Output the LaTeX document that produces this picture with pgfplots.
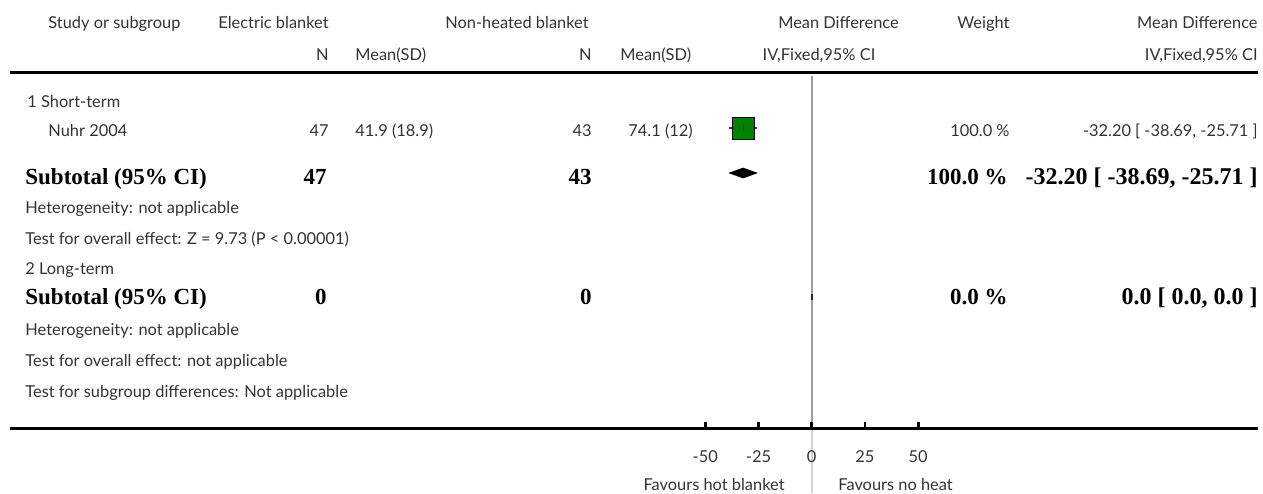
\documentclass[border=0pt]{standalone}
\usepackage{pgfplots}
\pgfplotsset{compat=1.18}
\usepackage{fontspec}
\setmainfont{Lato}
\newfontfamily\serifbold{Liberation Serif}

% study estimates: mean difference with 95% CI
\pgfplotstableread{
md     lo      hi      row
-32.20 -38.69  -25.71  128
}\studies
% pooled subtotal (short-term)
\pgfplotstableread{
x      y
-38.69 173
-32.20 168
-25.71 173
-32.20 178
}\pooled

% page position (1 unit = 1 px on a 1263 x 493 grid) -> mean difference
\newcommand\px[1]{(((#1)-811.7)/2.13)}
% wide word space for the bold summary intervals
\newcommand\ws{\hspace{0.25em}}

\begin{document}
\begin{tikzpicture}[
  every node/.style={inner sep=0pt, font=\fontsize{8.2}{10}\selectfont, text=black!80},
  bt/.style={font=\serifbold\bfseries\fontsize{11.5}{13}\selectfont, text=black},
  bci/.style={font=\serifbold\bfseries\fontsize{12}{14}\selectfont, text=black},
]
\begin{axis}[
  scale only axis, width=631.5pt, height=246.5pt,
  xmin={\px{0}}, xmax={\px{1263}},
  ymin=0, ymax=493, y dir=reverse,
  axis lines=none, clip=false,
]
% page frame
\path (axis cs:{\px{0}},0) rectangle (axis cs:{\px{1263}},493);

% header
\node[anchor=base west] at (axis cs:{\px{48}},28) {Study or subgroup};
\node[anchor=base west] at (axis cs:{\px{218}},28) {Electric blanket};
\node[anchor=base west] at (axis cs:{\px{445}},28) {Non-heated blanket};
\node[anchor=base] at (axis cs:{\px{838.5}},28) {Mean Difference};
\node[anchor=base west] at (axis cs:{\px{957}},28) {Weight};
\node[anchor=base east] at (axis cs:{\px{1258}},28) {Mean Difference};
\node[anchor=base east] at (axis cs:{\px{329}},60) {N};
\node[anchor=base west] at (axis cs:{\px{355}},60) {Mean(SD)};
\node[anchor=base east] at (axis cs:{\px{592}},60) {N};
\node[anchor=base west] at (axis cs:{\px{620}},60) {Mean(SD)};
\node[anchor=base] at (axis cs:{\px{819}},60) {IV,Fixed,95\% CI};
\node[anchor=base east] at (axis cs:{\px{1258}},60) {IV,Fixed,95\% CI};
\draw[line width=1.5pt] (axis cs:{\px{10}},72) -- (axis cs:{\px{1258}},72);

% line of no effect
\draw[line width=0.8pt, black!38] (axis cs:0,76) -- (axis cs:0,428);
\draw[line width=0.8pt, black!18] (axis cs:0,428) -- (axis cs:0,493);

% subgroup 1
\node[anchor=base west] at (axis cs:{\px{27}},107) {1 Short-term};
\node[anchor=base west] at (axis cs:{\px{48}},136) {Nuhr 2004};
\node[anchor=base east] at (axis cs:{\px{329}},136) {47};
\node[anchor=base west] at (axis cs:{\px{355}},136) {41.9 (18.9)};
\node[anchor=base east] at (axis cs:{\px{592}},136) {43};
\node[anchor=base west] at (axis cs:{\px{628}},136) {74.1 (12)};
\node[anchor=base east] at (axis cs:{\px{1010}},136) {100.0 \%};
\node[anchor=base east] at (axis cs:{\px{1258}},136) {-32.20 [ -38.69, -25.71 ]};

\addplot[only marks, mark=square*, mark size=5.5pt, draw=none, fill={rgb,255:red,0;green,128;blue,0}]
  table[x=md, y=row] {\studies};
\addplot[black!75, line width=0.7pt] coordinates {(-38.69,128) (-25.71,128)};
\addplot[only marks, mark=|, mark size=1.6pt, black!80, line width=0.6pt]
  table[x=md, y=row] {\studies};

\node[bt, anchor=base west] at (axis cs:{\px{25}},184) {Subtotal (95\% CI)};
\node[bt, anchor=base east] at (axis cs:{\px{327}},184) {47};
\node[bt, anchor=base east] at (axis cs:{\px{592}},184) {43};
\node[bt, anchor=base east] at (axis cs:{\px{1008}},184) {100.0 \%};
\node[bci, anchor=base east] at (axis cs:{\px{1258}},184) {-32.20\ws[\ws-38.69,\ws-25.71\ws]};
\addplot[fill=black, draw=black, line width=0.3pt] table[x=x, y=y] {\pooled} -- cycle;

\node[anchor=base west] at (axis cs:{\px{25}},213) {Heterogeneity: not applicable};
\node[anchor=base west] at (axis cs:{\px{25}},244) {Test for overall effect: Z = 9.73 (P < 0.00001)};

% subgroup 2
\node[anchor=base west] at (axis cs:{\px{25}},274) {2 Long-term};
\node[bt, anchor=base west] at (axis cs:{\px{25}},304) {Subtotal (95\% CI)};
\node[bt, anchor=base east] at (axis cs:{\px{327}},304) {0};
\node[bt, anchor=base east] at (axis cs:{\px{592}},304) {0};
\node[bt, anchor=base east] at (axis cs:{\px{1008}},304) {0.0 \%};
\node[bci, anchor=base east] at (axis cs:{\px{1258}},304) {0.0\ws[\ws0.0,\ws0.0\ws]};
\addplot[only marks, mark=|, mark size=1.3pt, black!85, line width=0.8pt] coordinates {(0,297)};
\node[anchor=base west] at (axis cs:{\px{25}},335) {Heterogeneity: not applicable};
\node[anchor=base west] at (axis cs:{\px{25}},366) {Test for overall effect: not applicable};
\node[anchor=base west] at (axis cs:{\px{25}},397) {Test for subgroup differences: Not applicable};

% scale
\draw[line width=1.5pt] (axis cs:{\px{10}},428) -- (axis cs:{\px{1258}},428);
\foreach \t in {-50,-25,0,25,50} {
  \edef\tmp{\noexpand\draw[line width=1.3pt] (axis cs:\t,428) -- (axis cs:\t,422);}\tmp
  \edef\tmp{\noexpand\node[anchor=base] at (axis cs:\t,462) {\t};}\tmp
}
\node[anchor=base east] at (axis cs:{\px{785}},490) {Favours hot blanket};
\node[anchor=base west] at (axis cs:{\px{838}},490) {Favours no heat};
\end{axis}
\end{tikzpicture}
\end{document}
